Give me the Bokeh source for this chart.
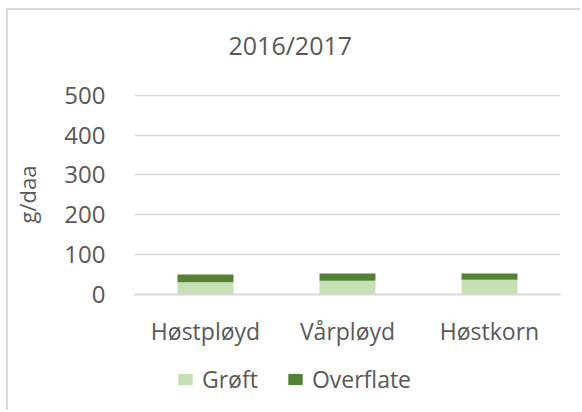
from bokeh.plotting import figure
from bokeh.models import Range1d, Legend, Title
from bokeh.layouts import column
from bokeh.embed import file_html
from bokeh.resources import INLINE

categories = ["Høstpløyd", "Vårpløyd", "Høstkorn"]
grofts = [31, 34.5, 37]
overflate = [19, 18.5, 16]
series = ["Grøft", "Overflate"]
colors = ["#c5e0b4", "#548235"]
title_text = "2016/2017"
y_label = "g/daa"
y_ticks = [0, 100, 200, 300, 400, 500]

data = {"cat": categories, "Grøft": grofts, "Overflate": overflate}

FONT = "Open Sans"
TXT = "#595959"

p = figure(x_range=categories, y_range=Range1d(0, 502), width=572, height=340,
           output_backend="svg", toolbar_location=None,
           min_border_left=126, min_border_right=20, min_border_top=84,
           min_border_bottom=56)

rs = p.vbar_stack(series, x="cat", width=0.394, color=colors, source=data,
                  line_color=None)

p.add_layout(Title(text=" ", text_font_size="14px"), "above")
p.add_layout(Title(text=title_text, align="left", offset=94, text_font=FONT,
                   text_font_size="25px", text_font_style="normal",
                   text_color=TXT), "above")

p.outline_line_color = None
p.background_fill_color = "white"
p.border_fill_color = "white"

p.xgrid.grid_line_color = None
p.ygrid.grid_line_color = "#d9d9d9"
p.ygrid.grid_line_width = 1.5
p.yaxis.ticker = y_ticks

p.yaxis.axis_line_color = None
p.yaxis.major_tick_line_color = None
p.yaxis.minor_tick_line_color = None
p.yaxis.major_tick_out = 0
p.yaxis.major_tick_in = 0
p.yaxis.major_label_text_font = FONT
p.yaxis.major_label_text_font_size = "24px"
p.yaxis.major_label_text_color = TXT
p.yaxis.major_label_standoff = 29
p.yaxis.axis_label = y_label
p.yaxis.axis_label_text_font = FONT
p.yaxis.axis_label_text_font_size = "22px"
p.yaxis.axis_label_text_font_style = "normal"
p.yaxis.axis_label_text_color = TXT
p.yaxis.axis_label_standoff = 19

p.xaxis.axis_line_color = "#d9d9d9"
p.xaxis.axis_line_width = 2
p.xaxis.major_tick_line_color = None
p.xaxis.minor_tick_line_color = None
p.xaxis.major_tick_out = 0
p.xaxis.major_tick_in = 0
p.xaxis.major_label_text_font = FONT
p.xaxis.major_label_text_font_size = "23px"
p.xaxis.major_label_text_color = TXT
p.xaxis.major_label_standoff = 20

# legend strip below the chart; its bars lie outside its view
p2 = figure(x_range=categories, y_range=Range1d(1000, 1001), width=572, height=60,
            output_backend="svg", toolbar_location=None, min_border=0)
p2.axis.visible = False
p2.grid.grid_line_color = None
p2.outline_line_color = None
p2.border_fill_color = "white"
leg_rs = p2.vbar_stack(series, x="cat", width=0.394, color=colors, source=data,
                       line_color=None)
legend = Legend(items=[(s, [r]) for s, r in zip(series, leg_rs)], orientation="horizontal",
                location=(42, 15), label_text_font=FONT, label_text_font_size="23px",
                label_text_color=TXT, glyph_width=18, glyph_height=14,
                spacing=28, label_standoff=8, border_line_color=None,
                background_fill_alpha=0, padding=6, margin=0)
p2.add_layout(legend, "center")

layout = column(p, p2, spacing=0,
                styles={"border-top": "2px solid #d9d9d9", "border-left": "2px solid #d9d9d9",
                        "margin-left": "6px", "margin-top": "8px"})

open("out.html", "w").write(file_html(layout, INLINE))
